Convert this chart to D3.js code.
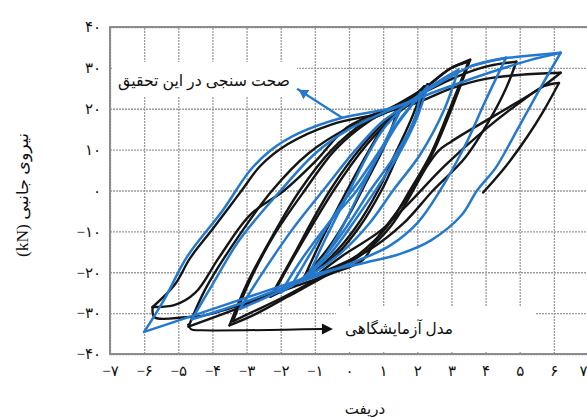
<!DOCTYPE html>
<html><head><meta charset="utf-8">
<script src="https://cdn.jsdelivr.net/npm/d3@7"></script>
<style>
html,body{margin:0;padding:0;background:#fff;}
svg{display:block;}
</style></head>
<body>
<svg id="c" width="587" height="417"></svg>
<script>
// ---- tick values and labels ----
const xTicks = [-7,-6,-5,-4,-3,-2,-1,0,1,2,3,4,5,6,7];
const xTickLabels = ["\u2212۷","\u2212۶","\u2212۵","\u2212۴","\u2212۳","\u2212۲","\u2212۱","۰","۱","۲","۳","۴","۵","۶","۷"];
const yTicks = [40,30,20,10,0,-10,-20,-30,-40];
const yTickLabels = ["۴۰","۳۰","۲۰","۱۰","۰","\u2212۱۰","\u2212۲۰","\u2212۳۰","\u2212۴۰"];
const xTitle = "دریفت";
const yTitle = "نیروی جانبی (kN)";
const simLabel = "صحت سنجی در این تحقیق";
const expLabel = "مدل آزمایشگاهی";

// ---- simulation (blue) branches: [drift, force] ----
const simR0 = [[-1.2,-21],[-0.7,-12],[-0.1,-2],[0.5,8],[1.0,15],[1.5,19.5]];
const simU0 = [[1.5,19.5],[1.0,11],[0.4,1],[-0.2,-9],[-0.7,-16],[-1.2,-21]];
const simR1 = [[-2.0,-25],[-1.4,-17],[-0.6,-8],[0.23,0],[0.9,9],[1.4,16],[1.8,20.5],[2.1,24]];
const simU1 = [[2.1,24],[1.9,17],[1.3,8],[0.62,0],[0.0,-8],[-0.7,-16],[-1.3,-21],[-2.0,-25]];
const simR1b = [[-1.7,-23.5],[-1.1,-15],[-0.35,-5],[0.35,3],[1.0,11],[1.5,17.5],[1.9,21.5],[2.3,25.5]];
const simU1b = [[2.3,25.5],[2.0,18],[1.5,9.5],[0.85,1],[0.2,-7],[-0.5,-15],[-1.1,-20],[-1.7,-23.5]];
const simR2 = [[-3.2,-29],[-2.6,-21],[-1.7,-10],[-0.76,0],[0.2,10],[1.0,17],[1.7,21],[2.4,25.5],[3.2,29.5]];
const simU2 = [[3.2,29.5],[2.8,20],[2.1,9],[1.29,0],[0.6,-8],[-0.2,-15],[-1.0,-20],[-2.0,-24.5],[-3.2,-29]];
const simR3 = [[-4.6,-31.5],[-4.0,-23],[-3.2,-12],[-2.0,0],[-1.0,9],[0.0,15],[1.0,19],[1.7,21.5],[2.6,26],[3.6,30.5],[4.6,32.5]];
const simU3 = [[4.6,32.5],[4.0,22],[3.4,11],[2.67,0],[2.0,-8],[1.2,-13.5],[0.3,-17],[-0.8,-20.5],[-2.0,-24],[-3.3,-28],[-4.6,-31.5]];
const simR4 = [[-6.0,-34.6],[-5.4,-26.5],[-4.75,-16.3],[-3.7,-4.9],[-2.9,4.9],[-2.3,9.8],[-1.5,13.9],[-0.2,17.8],[1.3,20.3],[2.4,23.8],[3.4,26.8],[4.4,29.6],[5.3,31.9],[6.2,33.7]];
const simU4 = [[6.2,33.7],[5.6,25],[4.8,12.9],[4.3,5.6],[3.75,0],[3.3,-6],[2.4,-12.2],[1.5,-15.5],[0.5,-17.6],[-0.85,-20.2],[-1.5,-22],[-3.5,-27.6],[-4.96,-31.7],[-6.0,-34.6]];
const simTop = [[3.6,30.5],[4.6,32.4],[5.4,33.1],[6.2,33.7]];

// ---- experiment (black) branches ----
const expR0 = [[-1.3,-21],[-0.8,-12],[-0.06,0],[0.6,10],[1.0,15.5],[1.4,19]];
const expU0 = [[1.4,19],[1.1,12],[0.5,2],[0.0,-6],[-0.6,-14],[-1.3,-21]];
const expR1 = [[-2.3,-26],[-1.7,-17],[-0.56,0],[0.4,11],[1.2,18],[1.7,21.5],[2.2,25.5]];
const expU1 = [[2.2,25.5],[1.8,17],[1.3,8],[0.85,0],[0.2,-9],[-0.5,-16],[-1.3,-21.5],[-2.3,-26]];
const expR1b = [[-2.2,-25],[-1.6,-16],[-0.45,0],[0.5,11],[1.3,18],[1.8,21.5],[2.3,26]];
const expU1b = [[2.3,26],[1.9,17],[1.4,8],[0.95,0],[0.3,-9],[-0.4,-16],[-1.2,-21],[-2.2,-25]];
const expR2 = [[-3.5,-33],[-3.0,-23],[-2.3,-12],[-1.44,0],[-0.5,10],[0.5,17],[1.4,21],[2.2,25],[2.9,29.5],[3.55,32]];
const expU2 = [[3.55,32],[3.1,22],[2.5,10],[1.88,0],[1.2,-9],[0.4,-15.5],[-0.6,-20.5],[-1.8,-26],[-2.8,-30.5],[-3.5,-33]];
const expR2b = [[-3.4,-32],[-2.9,-22],[-2.2,-11],[-1.3,0],[-0.4,10],[0.6,17],[1.5,21],[2.3,25.5],[3.0,30],[3.5,31.5]];
const expU2b = [[3.5,31.5],[3.0,21],[2.4,9],[1.78,0],[1.1,-9],[0.3,-15.5],[-0.7,-20.5],[-1.9,-26],[-2.9,-30],[-3.4,-32]];
const expR3 = [[-4.7,-33.3],[-4.2,-24],[-3.3,-12],[-2.25,0],[-1.2,9],[0.0,15.4],[1.2,19.5],[2.2,24],[3.2,28],[4.1,30.5],[4.9,31.5]];
const expU3 = [[4.9,31.5],[4.6,25],[4.1,17],[3.4,8],[2.46,0],[1.6,-8],[0.6,-14.5],[-0.5,-19],[-1.5,-22.5],[-3.0,-28],[-4.7,-33.3]];
const expR4 = [[-5.75,-28.5],[-5.1,-23],[-4.65,-16.5],[-4.0,-9.5],[-3.5,-4],[-3.1,0.5],[-2.6,6],[-1.8,11.3],[-0.5,16.2],[1.0,19],[2.0,21.5],[3.0,25],[4.0,27.3],[5.0,28.3],[6.2,28.8]];
const expU4 = [[6.2,28.8],[5.6,25],[4.3,18.5],[3.0,12],[2.6,9.5],[1.6,-3],[0.8,-12],[0.4,-17],[-0.5,-20.3],[-1.6,-23.5],[-3.0,-27.5],[-4.2,-30.5],[-4.8,-31],[-5.7,-31],[-5.75,-28.5]];
const expR5 = [[-5.75,-28.5],[-5.1,-28],[-4.5,-25],[-3.8,-16.3],[-2.9,-6],[-1.9,0],[-1.0,7],[-0.06,15.4],[1.0,19.5]];
const expR6 = [[-1.0,-21],[-0.2,-16],[0.9,-10],[1.64,-4.1],[2.8,6],[4.0,15],[5.0,21.5],[5.7,25.5],[6.15,26.3]];
const expU6 = [[6.15,26.3],[5.7,19.5],[5.2,12.9],[4.6,6],[3.93,-0.5]];

// annotation anchor points (data units)
const simArrow = [[-0.2,17.8],[-1.52,24.9]];
const expArrow = [[-4.72,-32.6],[-4.62,-34.0],[-4.3,-34.2],[-0.75,-33.9]];
const expArrowTip = [-0.47,-33.9];

const simBranches = [simR0,simU0,simR1,simU1,simR1b,simU1b,simR2,simU2,simR3,simU3,simR4,simU4,simTop];
const expBranches = [expR0,expU0,expR1,expU1,expR1b,expU1b,expR2,expU2,expR2b,expU2b,expR3,expU3,expR4,expU4,expR5,expR6,expU6];

const svg = d3.select("#c");
const L = 110, R = 588, T = 27, B = 354;
const x = d3.scaleLinear().domain([-7,7]).range([L,R]);
const y = d3.scaleLinear().domain([-40,40]).range([B,T]);
const FONT = "'Liberation Serif','DejaVu Sans',serif";

// grid
const gx = svg.append("g").attr("transform",`translate(0,${B})`)
  .call(d3.axisBottom(x).tickValues(xTicks).tickSize(-(B-T)).tickFormat(""));
const gy = svg.append("g").attr("transform",`translate(${L},0)`)
  .call(d3.axisLeft(y).tickValues(yTicks).tickSize(-(R-L)).tickFormat(""));
[gx,gy].forEach(g=>{
  g.select(".domain").remove();
  g.selectAll("line").attr("stroke","#9c9c9c").attr("stroke-width",1.3).attr("stroke-dasharray","2,1");
});
// frame
svg.append("rect").attr("x",L).attr("y",T).attr("width",R-L).attr("height",B-T)
  .attr("fill","none").attr("stroke","#8c8c8c").attr("stroke-width",2);

// tick labels via axes
const ax = svg.append("g").attr("transform",`translate(0,${B})`)
  .call(d3.axisBottom(x).tickValues(xTicks).tickSize(0).tickPadding(11).tickFormat((d,i)=>xTickLabels[i]));
const ay = svg.append("g").attr("transform",`translate(${L},0)`)
  .call(d3.axisLeft(y).tickValues(yTicks).tickSize(0).tickPadding(9).tickFormat((d,i)=>yTickLabels[i]));
[ax,ay].forEach(g=>{
  g.select(".domain").remove();
  g.selectAll("text").attr("font-family",FONT).attr("font-size",15).attr("fill","#111");
});
// keep the last x label inside the picture
ax.selectAll(".tick").filter(d=>d===7).select("text").attr("text-anchor","end").attr("dx",-1);

// white boxes behind annotations
svg.append("rect").attr("x",113).attr("y",62).attr("width",184).attr("height",35).attr("fill","#fff");
svg.append("rect").attr("x",336).attr("y",307).attr("width",199).attr("height",45).attr("fill","#fff");

// curves
const line = d3.line().x(d=>x(d[0])).y(d=>y(d[1])).curve(d3.curveCatmullRom.alpha(0.5));
svg.append("g").selectAll("path").data(expBranches).join("path")
  .attr("d",line).attr("fill","none").attr("stroke","#151515").attr("stroke-width",2.4)
  .attr("stroke-linejoin","round").attr("stroke-linecap","round");
svg.append("g").selectAll("path").data(simBranches).join("path")
  .attr("d",line).attr("fill","none").attr("stroke","#2479cd").attr("stroke-width",2.5)
  .attr("stroke-linejoin","round").attr("stroke-linecap","round");

// blue arrow
const straight = d3.line().x(d=>x(d[0])).y(d=>y(d[1]));
svg.append("path").attr("d",straight(simArrow)).attr("stroke","#2479cd").attr("stroke-width",2.2).attr("fill","none");
{
  const hx = x(simArrow[1][0]), hy = y(simArrow[1][1]);
  const tx = x(simArrow[0][0]), ty = y(simArrow[0][1]);
  const ang = Math.atan2(hy-ty, hx-tx);
  const len = 11, w = 5.5;
  const bx = hx - len*Math.cos(ang), by = hy - len*Math.sin(ang);
  svg.append("path").attr("d",`M${hx-2*Math.cos(ang)},${hy-2*Math.sin(ang)}L${bx+w*Math.sin(ang)},${by-w*Math.cos(ang)}L${bx-w*Math.sin(ang)},${by+w*Math.cos(ang)}Z`)
    .attr("fill","#2479cd");
}
// black arrow
svg.append("path").attr("d",line(expArrow)).attr("stroke","#111").attr("stroke-width",2).attr("fill","none");
{
  const tx = x(expArrowTip[0]), ty = y(expArrowTip[1]);
  svg.append("path").attr("d",`M${tx},${ty}L${tx-11},${ty-5.5}L${tx-11},${ty+5.5}Z`).attr("fill","#111");
}

// annotation texts
svg.append("text").attr("x",204).attr("y",86).attr("text-anchor","middle").attr("direction","rtl")
  .attr("font-family",FONT).attr("font-size",16).attr("fill","#111")
  .attr("textLength",172).attr("lengthAdjust","spacingAndGlyphs").text(simLabel);
svg.append("text").attr("x",399).attr("y",334).attr("text-anchor","middle").attr("direction","rtl")
  .attr("font-family",FONT).attr("font-size",16).attr("fill","#111")
  .attr("textLength",108).attr("lengthAdjust","spacingAndGlyphs").text(expLabel);

// axis titles
svg.append("text").attr("x",365).attr("y",414).attr("text-anchor","middle").attr("direction","rtl")
  .attr("font-family",FONT).attr("font-size",15).attr("fill","#111").text(xTitle);
svg.append("text").attr("transform","translate(28,195) rotate(-90)").attr("text-anchor","middle").attr("direction","rtl")
  .attr("font-family",FONT).attr("font-size",16).attr("fill","#111")
  .attr("textLength",124).attr("lengthAdjust","spacingAndGlyphs").text(yTitle);
</script>
</body></html>
